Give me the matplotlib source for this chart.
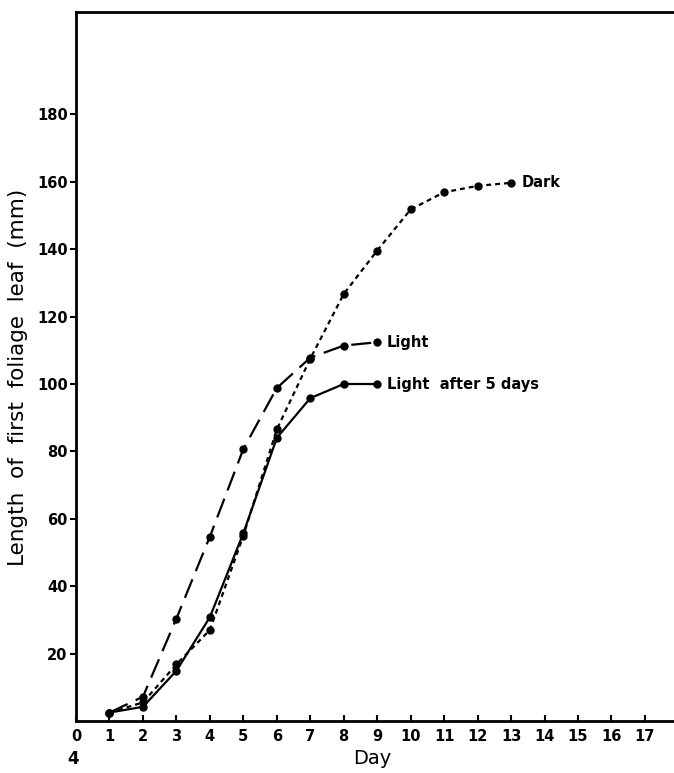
import matplotlib.pyplot as plt

# values
days_light = [1, 2, 3, 4, 5, 6, 7, 8, 9]
light = [2.5, 7.2, 30.4, 54.7, 80.7, 98.8, 107.8, 111.4, 112.4]

days_after5 = [1, 2, 3, 4, 5, 6, 7, 8, 9]
light_after5 = [2.5, 4.2, 14.9, 30.8, 55.7, 84.0, 95.8, 100.0, 100.0]

days_dark = [1, 2, 3, 4, 5, 6, 7, 8, 9, 10, 11, 12, 13]
dark = [2.5, 5.5, 16.8, 27.0, 55.0, 86.5, 107.5, 126.7, 139.6, 151.8, 156.9, 158.8, 159.7]

x_ticks = list(range(0, 18))
y_ticks = [20, 40, 60, 80, 100, 120, 140, 160, 180]

plt.rcParams['font.family'] = ['DejaVu Sans']

fig = plt.figure(figsize=(6.74, 7.73), dpi=100)
ax = fig.add_axes([0.1128, 0.0673, 0.8872, 0.9172])

lw = 1.6
ms = 5
ax.plot(days_light, light, color='black', lw=lw, dashes=(9, 4),
        marker='o', ms=ms, clip_on=False)
ax.plot(days_after5, light_after5, color='black', lw=lw, linestyle='-',
        marker='o', ms=ms, clip_on=False)
ax.plot(days_dark, dark, color='black', lw=lw, dashes=(2.2, 1.8),
        marker='o', ms=ms, clip_on=False)

ax.text(13.33, dark[-1], 'Dark', fontsize=10.5, fontweight='bold', va='center')
ax.text(9.28, light[-1], 'Light', fontsize=10.5, fontweight='bold', va='center')
ax.text(9.3, light_after5[-1], 'Light  after 5 days', fontsize=10.5,
        fontweight='bold', va='center')

ax.set_xlim(0, 17.87)
ax.set_ylim(0, 210.4)
ax.set_xticks(x_ticks)
ax.set_xticklabels([str(t) for t in x_ticks], fontsize=10.5, fontweight='bold')
ax.set_yticks(y_ticks)
ax.set_yticklabels([str(t) for t in y_ticks], fontsize=10.5, fontweight='bold')
ax.tick_params(axis='x', direction='in', length=4, width=1.5, pad=6)
ax.tick_params(axis='y', direction='out', length=4, width=1.5, pad=2)

ax.spines['right'].set_visible(False)
for s in ['left', 'top', 'bottom']:
    ax.spines[s].set_linewidth(2)

ax.set_xlabel('Day', fontsize=14)
ax.xaxis.set_label_coords(0.495, -0.039)
ax.set_ylabel('Length  of  first  foliage  leaf  (mm)', fontsize=15.5)
ax.yaxis.set_label_coords(-0.08, 0.485)

# figure number at the bottom left corner
fig.text(0.1, 0.006, '4', fontsize=12, fontweight='bold', va='bottom')

fig.savefig('out.png', dpi=100)
